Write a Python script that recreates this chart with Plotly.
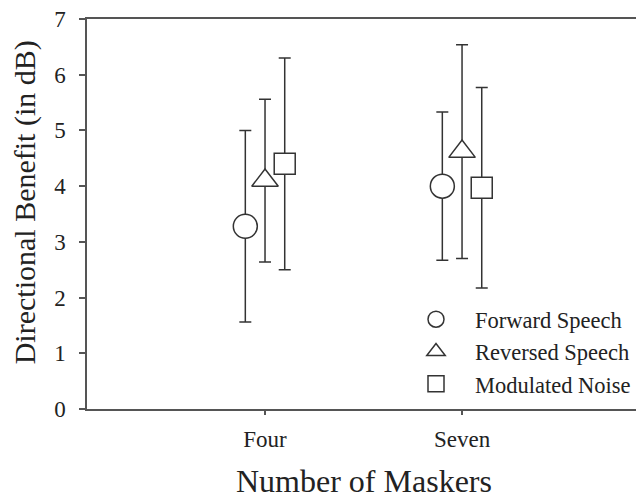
import plotly.graph_objects as go

categories = ["Four", "Seven"]
series_names = ["Forward Speech", "Reversed Speech", "Modulated Noise"]
forward_mean = [3.28, 4.00]
forward_err = [1.72, 1.33]
reversed_mean = [4.10, 4.62]
reversed_err = [1.46, 1.92]
noise_mean = [4.40, 3.97]
noise_err = [1.90, 1.80]
y_ticks = [0, 1, 2, 3, 4, 5, 6, 7]

FONT = "Liberation Serif"
INK = "#333333"
AXIS = "#555555"

base_x = list(range(1, len(categories) + 1))
offsets = [-0.1, 0.0, 0.1]
symbols = ["circle", "triangle-up", "square"]
sizes = [24, 23, 21]
means = [forward_mean, reversed_mean, noise_mean]
errs = [forward_err, reversed_err, noise_err]

fig = go.Figure()
for name, m, e, off, sym, sz in zip(series_names, means, errs, offsets, symbols, sizes):
    fig.add_trace(go.Scatter(
        x=[b + off for b in base_x], y=m, name=name, mode="markers",
        marker=dict(symbol=sym, size=sz, color="white", line=dict(color=INK, width=1.5)),
        error_y=dict(type="data", array=e, visible=True, color=INK, thickness=1.5, width=6),
    ))

fig.update_layout(
    width=636, height=501,
    margin=dict(l=87, r=0, t=19, b=92),
    paper_bgcolor="white", plot_bgcolor="white",
    font=dict(family=FONT, color="#222222"),
    showlegend=True,
    legend=dict(x=1.0, y=0.01, xanchor="right", yanchor="bottom",
                itemwidth=68,
                font=dict(size=22.5, family=FONT, color="#222222"),
                bgcolor="rgba(0,0,0,0)"),
    xaxis=dict(range=[0.0964, 2.883], tickvals=base_x, ticktext=categories,
               ticks="outside", ticklen=4, tickcolor=AXIS, tickwidth=1.5,
               showline=True, linecolor=AXIS, linewidth=1.5, mirror=True,
               showgrid=False, zeroline=False, tickfont=dict(size=23),
               ticklabelstandoff=5),
    yaxis=dict(range=[0, 7], tickvals=y_ticks, ticks="outside", ticklen=6,
               tickcolor=AXIS, tickwidth=1.5, showline=True, linecolor=AXIS,
               linewidth=1.5, showgrid=False, zeroline=False,
               tickfont=dict(size=23), ticklabelstandoff=9),
    annotations=[
        dict(text="Number of Maskers", xref="paper", yref="paper", x=0.505, y=0,
             yanchor="bottom", yshift=-92, showarrow=False, font=dict(size=32)),
        dict(text="Directional Benefit (in dB)", xref="paper", yref="paper", x=0,
             y=0.53, xanchor="center", yanchor="middle", xshift=-62, textangle=-90,
             showarrow=False, font=dict(size=30)),
    ],
)

fig.write_html("out.html")
